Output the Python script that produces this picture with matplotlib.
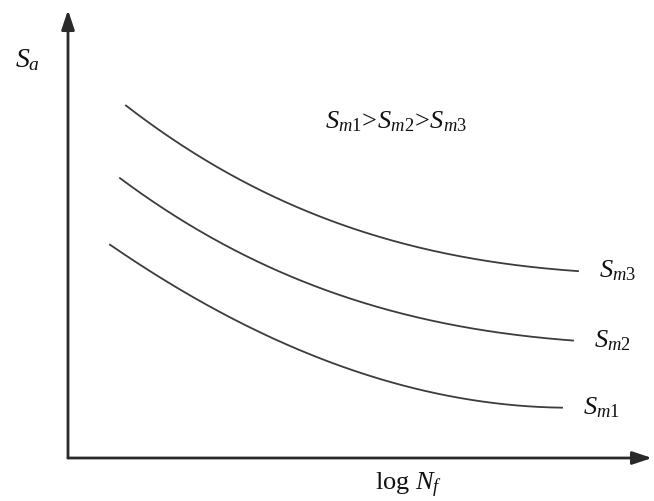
import matplotlib
matplotlib.use("Agg")
import matplotlib.pyplot as plt
import numpy as np

plt.rcParams['mathtext.fontset'] = 'custom'
plt.rcParams['mathtext.it'] = 'Liberation Serif:italic'
plt.rcParams['mathtext.rm'] = 'Liberation Serif'
plt.rcParams['font.family'] = 'Liberation Serif'

# curves (x = log Nf, y = Sa, arbitrary units from origin)
sm3_x = [58, 132, 182, 232, 282, 312, 362, 412, 462, 510]
sm3_y = [353, 301, 271, 250, 231, 224, 207, 197, 190, 188]
sm2_x = [52, 99, 149, 199, 249, 262, 312, 362, 412, 462, 505]
sm2_y = [284, 241, 215, 193, 176, 168, 150, 136, 126, 121, 119]
sm1_x = [42, 82, 132, 182, 232, 262, 312, 362, 412, 462, 494]
sm1_y = [215, 185, 155, 131, 111, 96, 78, 65, 57, 51, 51]

curves = [(sm1_x, sm1_y, r'$S_{\mathit{m1}}$'),
          (sm2_x, sm2_y, r'$S_{\mathit{m2}}$'),
          (sm3_x, sm3_y, r'$S_{\mathit{m3}}$')]

W, H = 654, 501
x0, y0 = 68, 458
fig = plt.figure(figsize=(W / 100, H / 100), dpi=100)
ax = fig.add_axes([x0 / W, (H - y0) / H, (W - x0) / W, y0 / H])
ax.set_xlim(0, W - x0)
ax.set_ylim(0, y0)
ax.axis('off')

# axes with arrows
arrow = dict(arrowstyle='-|>,head_length=0.9,head_width=0.3', color='#2a2a2a',
             lw=2, mutation_scale=13, shrinkA=0, shrinkB=0)
ax.annotate('', xy=(584, 0), xytext=(0, 0), arrowprops=arrow,
            annotation_clip=False)
ax.annotate('', xy=(0, 448), xytext=(0, 0), arrowprops=arrow,
            annotation_clip=False)

for xs, ys, lab in curves:
    # smooth rendition of the read points
    coef = np.polyfit(xs, ys, 3)
    xx = np.linspace(xs[0], xs[-1], 200)
    ax.plot(xx, np.polyval(coef, xx), color='#3c3c3c', lw=1.3)
    ax.text(xs[-1] + 21, np.polyval(coef, xs[-1]), lab, fontsize=19,
            ha='left', va='center', color='#111111')

ax.text(-41, 398, r'$S_{a}$', fontsize=20, ha='center', va='center',
        color='#111111', clip_on=False)
ax.text(328, 336, r'$S_{\mathit{m1}}\!>\!S_{\mathit{m2}}\!>\!S_{\mathit{m3}}$',
        fontsize=19, ha='center', va='center', color='#111111')
ax.text(340, -27, r'$\mathrm{log}\ N_{f}$', fontsize=19, ha='center',
        va='center', color='#111111', clip_on=False)

fig.savefig('out.png', dpi=100)
